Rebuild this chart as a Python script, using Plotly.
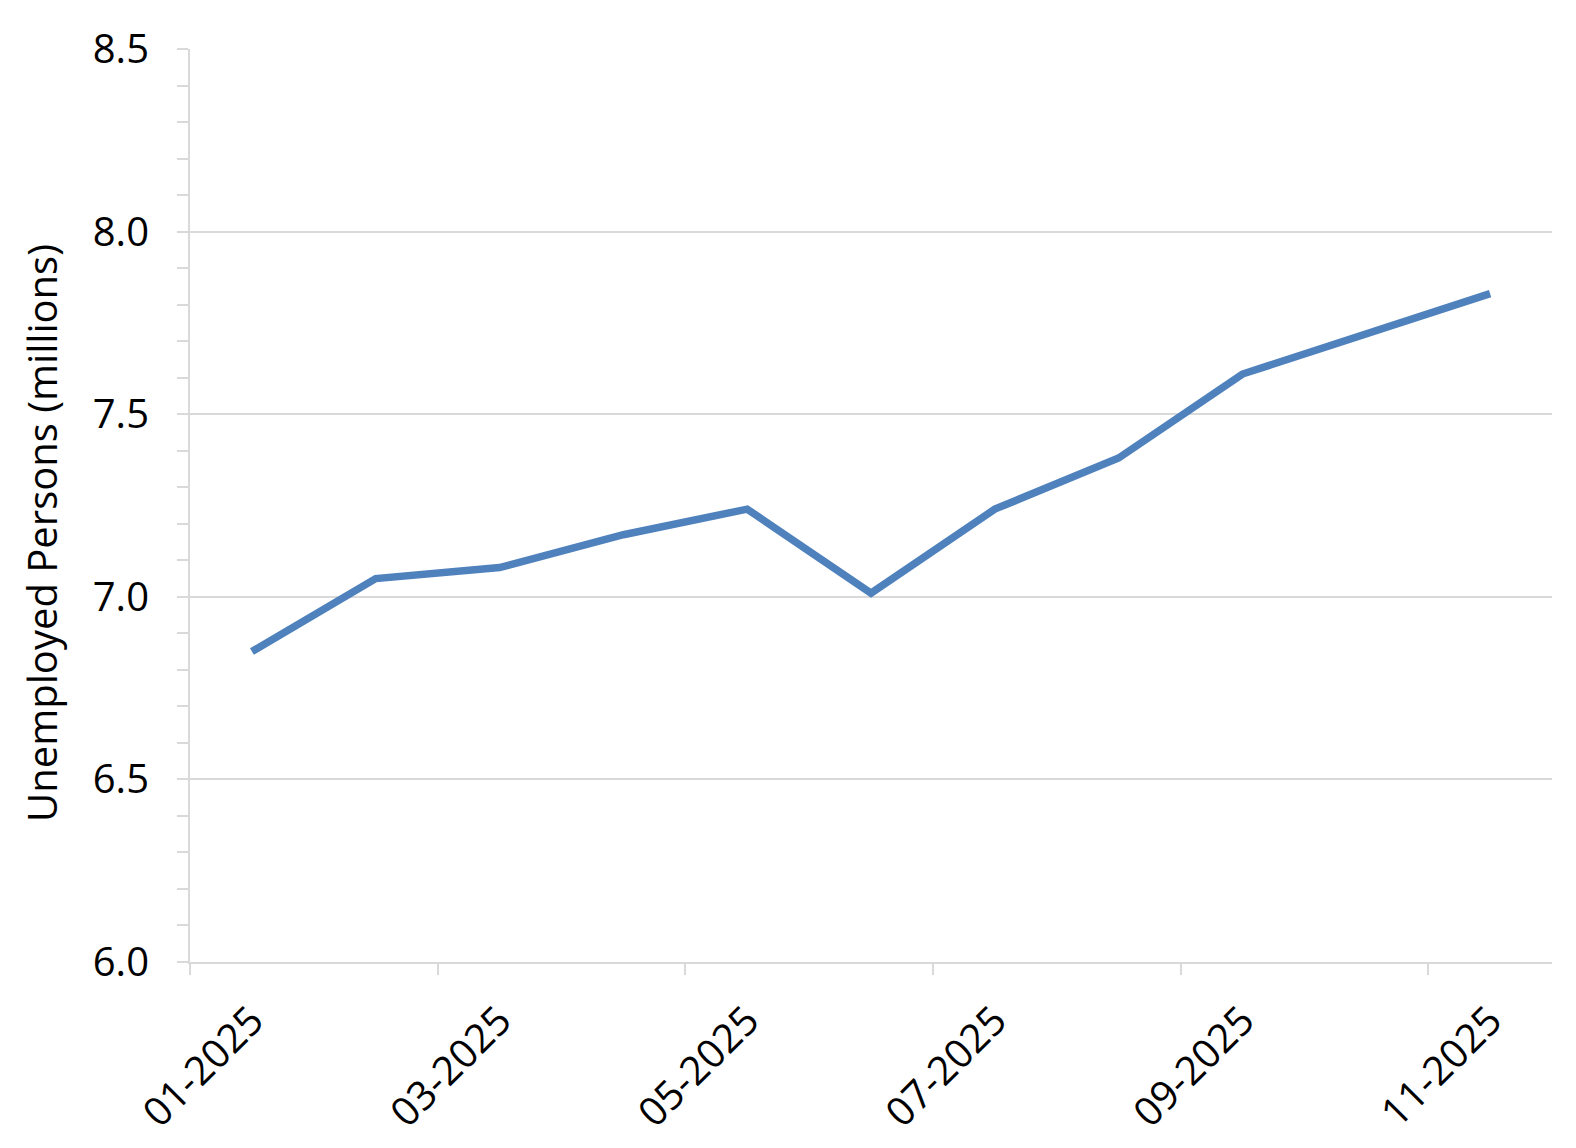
import plotly.graph_objects as go

months = ["01-2025", "02-2025", "03-2025", "04-2025", "05-2025", "06-2025",
          "07-2025", "08-2025", "09-2025", "10-2025", "11-2025"]
unemployed = [6.85, 7.05, 7.08, 7.17, 7.24, 7.01, 7.24, 7.38, 7.61, 7.72, 7.83]
y_title = "Unemployed Persons (millions)"

x_idx = list(range(len(months)))
label_idx = x_idx[::2]
label_text = [months[i] for i in label_idx]
boundary_ticks = [i - 0.5 for i in label_idx]

FONT = "Open Sans"
GRID = "#D9D9D9"

fig = go.Figure()
fig.add_trace(go.Scatter(
    x=x_idx, y=unemployed, mode="lines",
    line=dict(color="#4F81BD", width=7.5),
    hoverinfo="skip", showlegend=False,
))

fig.update_layout(
    width=1560, height=1140,
    margin=dict(l=182, r=16, t=41, b=186),
    paper_bgcolor="white", plot_bgcolor="white",
    font=dict(family=FONT, color="black", size=40),
    xaxis=dict(
        range=[-0.5, len(months) - 0.5],
        tickmode="array", tickvals=label_idx, ticktext=label_text,
        tickangle=-45, ticks="", ticklen=0,
        tickfont=dict(size=40, family=FONT),
        showgrid=False, zeroline=False,
        showline=True, linecolor=GRID, linewidth=2,
        minor=dict(tickmode="array", tickvals=boundary_ticks, ticks="outside",
                   ticklen=11, tickcolor=GRID, tickwidth=2, showgrid=False),
        ticklabelstandoff=17,
        automargin=False,
    ),
    yaxis=dict(
        range=[6.0, 8.5],
        tickmode="linear", tick0=6.0, dtick=0.5, tickformat=".1f",
        ticks="outside", ticklen=11, tickcolor=GRID, tickwidth=2,
        tickfont=dict(size=40, family=FONT),
        showgrid=True, gridcolor=GRID, gridwidth=2,
        zeroline=False,
        showline=True, linecolor=GRID, linewidth=2,
        minor=dict(tick0=6.0, dtick=0.1, ticks="outside", ticklen=11,
                   tickcolor=GRID, tickwidth=2, showgrid=False),
        ticklabelstandoff=20,
        automargin=False,
    ),
    annotations=[dict(
        text=y_title, textangle=-90,
        xref="paper", yref="paper", x=0, y=0.470,
        xanchor="center", yanchor="middle", xshift=-148,
        showarrow=False, font=dict(size=40, family=FONT, color="black"),
    )],
)

fig.write_html("out.html")
